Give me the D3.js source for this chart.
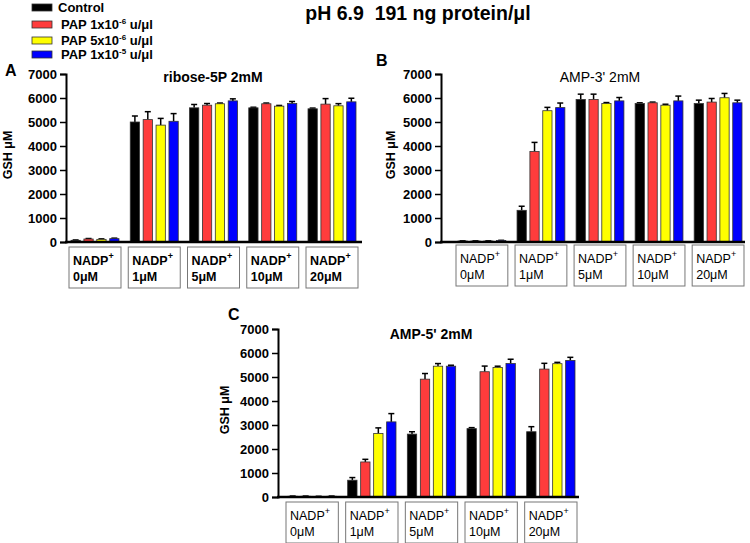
<!DOCTYPE html>
<html>
<head>
<meta charset="utf-8">
<script src="https://cdn.jsdelivr.net/npm/d3@7"></script>
<style>
	body { margin: 0; background: white; }
	svg { font-family: Arial, "Liberation Sans", sans-serif; }
	text { white-space: pre; }
</style>
</head>
<body>
<svg id="chart"></svg>
<script>
// categories and series
var categories = ["0\u03bcM", "1\u03bcM", "5\u03bcM", "10\u03bcM", "20\u03bcM"];
var seriesNames = ["Control", "PAP 1x10-6 u/\u03bcl", "PAP 5x10-6 u/\u03bcl", "PAP 1x10-5 u/\u03bcl"];
var seriesColors = ["#000000", "#ff3c3c", "#ffff00", "#0000ff"];
var yTicks = [0, 1000, 2000, 3000, 4000, 5000, 6000, 7000];

// panel A: ribose-5P 2mM (GSH uM, one row per series)
var riboseMean = [
	[70, 5000, 5590, 5590, 5550],
	[125, 5100, 5700, 5760, 5745],
	[110, 4870, 5760, 5660, 5675],
	[140, 5030, 5880, 5770, 5840]
];
var riboseErr = [
	[15, 250, 140, 25, 30],
	[20, 330, 70, 30, 230],
	[20, 280, 30, 30, 90],
	[20, 320, 85, 85, 150]
];

// panel B: AMP-3' 2mM
var amp3Mean = [
	[40, 1320, 5940, 5770, 5770],
	[40, 3770, 5940, 5800, 5830],
	[40, 5470, 5770, 5700, 6010],
	[60, 5600, 5880, 5880, 5800]
];
var amp3Err = [
	[10, 170, 220, 30, 140],
	[10, 380, 220, 30, 150],
	[10, 140, 40, 40, 180],
	[10, 190, 140, 200, 110]
];

// panel C: AMP-5' 2mM
var amp5Mean = [
	[30, 700, 2620, 2850, 2720],
	[30, 1460, 4910, 5220, 5330],
	[20, 2645, 5450, 5400, 5555],
	[30, 3130, 5450, 5560, 5690]
];
var amp5Err = [
	[10, 110, 100, 40, 210],
	[10, 110, 235, 235, 240],
	[10, 235, 110, 50, 55],
	[10, 345, 40, 180, 130]
];

const width = 750;
const height = 543;

var svg = d3.select("#chart").attr("width", width).attr("height", height);

// title
svg.append("text")
	.attr("x", 418).attr("y", 20)
	.attr("text-anchor", "middle")
	.attr("font-size", 19.5).attr("font-weight", "bold")
	.text("pH 6.9  191 ng protein/\u03bcl");

// legend
var legend = svg.append("g");
var legendY = [7, 24, 40, 54];
seriesNames.forEach(function (name, i) {
	legend.append("rect")
		.attr("x", 32).attr("y", legendY[i] - 3)
		.attr("width", 20).attr("height", 7)
		.attr("fill", seriesColors[i])
		.attr("stroke", "#333").attr("stroke-width", 0.8);
	var t = legend.append("text")
		.attr("x", i == 0 ? 58 : 61).attr("y", legendY[i] + 5)
		.attr("font-size", 13).attr("font-weight", "bold");
	if (i == 0) {
		t.text(name);
	} else {
		var parts = name.match(/^(PAP \dx10)(-\d)( u\/.*)$/);
		t.append("tspan").text(parts[1]);
		t.append("tspan").attr("font-size", 8).attr("dy", -5).text(parts[2]);
		t.append("tspan").attr("dy", 5).text(parts[3]);
	}
});

var panels = [
	{ letter: "A", letterX: 5, letterY: 76, title: "ribose-5P 2mM", titleX: 213, titleY: 82, titleBold: true, boxBold: true,
	  axisX: 66, axisEnd: 362, yTop: 74, yBot: 242, gStart: 71, gEnd: 356,
	  ylabX: 12, ylabY: 155, boxTop: 247, mean: riboseMean, err: riboseErr },
	{ letter: "B", letterX: 376, letterY: 66, title: "AMP-3' 2mM", titleX: 600, titleY: 82, titleBold: false, boxBold: false,
	  axisX: 441, axisEnd: 745, yTop: 74, yBot: 242, gStart: 458, gEnd: 742,
	  ylabX: 395, ylabY: 155, boxTop: 245, mean: amp3Mean, err: amp3Err },
	{ letter: "C", letterX: 228, letterY: 320, title: "AMP-5' 2mM", titleX: 431, titleY: 339, titleBold: true, boxBold: false,
	  axisX: 278, axisEnd: 579, yTop: 329, yBot: 497, gStart: 288, gEnd: 575,
	  ylabX: 229, ylabY: 410, boxTop: 502, mean: amp5Mean, err: amp5Err }
];

panels.forEach(function (p) {
	var g = svg.append("g");

	var y = d3.scaleLinear().domain([0, 7000]).range([p.yBot, p.yTop]);
	var x0 = d3.scaleBand().domain(categories).range([p.gStart, p.gEnd])
		.paddingInner(0.19).paddingOuter(0);
	var x1 = d3.scaleBand().domain(d3.range(seriesNames.length)).range([0, x0.bandwidth()])
		.paddingInner(0.28).paddingOuter(0);

	// panel letter and title
	g.append("text").attr("x", p.letterX).attr("y", p.letterY)
		.attr("font-size", 16).attr("font-weight", "bold").text(p.letter);
	g.append("text").attr("x", p.titleX).attr("y", p.titleY)
		.attr("text-anchor", "middle").attr("font-size", 14)
		.attr("font-weight", p.titleBold ? "bold" : "normal")
		.text(p.title);

	// bars
	var rows = [];
	categories.forEach(function (c, ci) {
		p.mean.forEach(function (vals, si) {
			rows.push({ cat: c, s: si, v: vals[ci], e: p.err[si][ci] });
		});
	});

	var bar = g.selectAll(".bar").data(rows).enter().append("g");
	bar.append("line")
		.attr("x1", function (d) { return x0(d.cat) + x1(d.s) + x1.bandwidth() / 2; })
		.attr("x2", function (d) { return x0(d.cat) + x1(d.s) + x1.bandwidth() / 2; })
		.attr("y1", function (d) { return y(d.v); })
		.attr("y2", function (d) { return y(d.v + d.e); })
		.attr("stroke", "black").attr("stroke-width", 1.5);
	bar.append("line")
		.attr("x1", function (d) { return x0(d.cat) + x1(d.s) + x1.bandwidth() / 2 - 3; })
		.attr("x2", function (d) { return x0(d.cat) + x1(d.s) + x1.bandwidth() / 2 + 3; })
		.attr("y1", function (d) { return y(d.v + d.e); })
		.attr("y2", function (d) { return y(d.v + d.e); })
		.attr("stroke", "black").attr("stroke-width", 1.5);
	bar.append("rect")
		.attr("x", function (d) { return x0(d.cat) + x1(d.s); })
		.attr("y", function (d) { return y(d.v); })
		.attr("width", x1.bandwidth())
		.attr("height", function (d) { return y(0) - y(d.v); })
		.attr("fill", function (d) { return seriesColors[d.s]; })
		.attr("stroke", "#333").attr("stroke-width", 0.8);

	// y axis
	var yAxis = g.append("g")
		.attr("transform", "translate(" + p.axisX + ",0)")
		.call(d3.axisLeft(y).tickValues(yTicks).tickFormat(d3.format("d")).tickSize(6).tickPadding(3));
	yAxis.selectAll("text").attr("font-size", 13).attr("font-weight", "bold")
		.attr("font-family", "Arial, 'Liberation Sans', sans-serif").attr("fill", "black");
	yAxis.selectAll("line").attr("stroke-width", 1.5);
	yAxis.select(".domain").attr("stroke-width", 2);

	// x axis line
	g.append("line")
		.attr("x1", p.axisX - 1).attr("x2", p.axisEnd)
		.attr("y1", y(0)).attr("y2", y(0))
		.attr("stroke", "black").attr("stroke-width", 2.5);

	// y label
	g.append("text")
		.attr("transform", "translate(" + p.ylabX + "," + p.ylabY + ") rotate(-90)")
		.attr("text-anchor", "middle").attr("font-size", 12.5).attr("font-weight", "bold")
		.text("GSH \u03bcM");

	// category boxes
	var box = g.selectAll(".box").data(categories).enter().append("g")
		.attr("transform", function (d) { return "translate(" + (x0(d) - 2) + "," + p.boxTop + ")"; });
	box.append("rect")
		.attr("width", x0.bandwidth() + 4).attr("height", 41)
		.attr("fill", "white").attr("stroke", "#777").attr("stroke-width", 1);
	var t1 = box.append("text").attr("x", 4).attr("y", 18)
		.attr("font-size", 12.5).attr("font-weight", p.boxBold ? "bold" : "normal");
	t1.append("tspan").text("NADP");
	t1.append("tspan").attr("font-size", 9).attr("dy", -6).text("+");
	box.append("text").attr("x", 4).attr("y", 34)
		.attr("font-size", 12.5).attr("font-weight", p.boxBold ? "bold" : "normal")
		.text(function (d) { return d; });
});
</script>
</body>
</html>
